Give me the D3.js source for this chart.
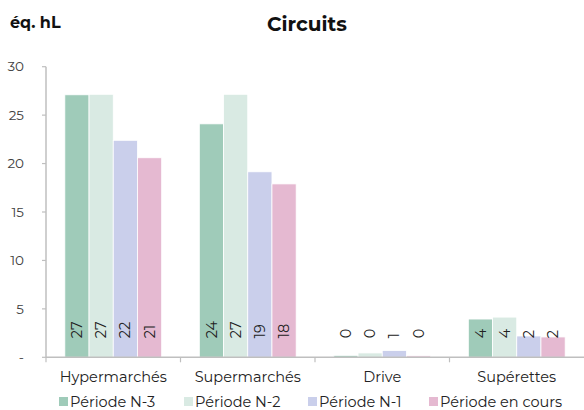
<!DOCTYPE html>
<html><head><meta charset="utf-8">
<script src="https://cdn.jsdelivr.net/npm/d3@7"></script>
<style>body{margin:0;background:#fff}svg{display:block;font-family:Montserrat,"DejaVu Sans",sans-serif}</style>
</head><body>
<script>
const categories = ["Hypermarchés","Supermarchés","Drive","Supérettes"];
const seriesNames = ["Période N-3","Période N-2","Période N-1","Période en cours"];
const n3 = [27.1, 24.1, 0.2, 3.95];
const n2 = [27.15, 27.15, 0.45, 4.15];
const n1 = [22.4, 19.15, 0.7, 2.2];
const enCours = [20.6, 17.9, 0.15, 2.1];
const yTicks = [0,5,10,15,20,25,30];
const colors = ["#9fcbb9","#d9eae3","#cacfeb","#e5b9d1"];

const seriesValues = [n3,n2,n1,enCours];
const W=584,H=410;
const svg=d3.select("body").append("svg").attr("width",W).attr("height",H);
const x0=46,x1=584,yb=357.3,yt=66.7;
const x=d3.scaleBand().domain(categories).range([x0,x1]).paddingInner(0.28).paddingOuter(0.14);
const xs=d3.scaleBand().domain(seriesNames).range([0,x.bandwidth()]);
const y=d3.scaleLinear().domain([0,30]).range([yb,yt]);

// title
svg.append("text").attr("x",307).attr("y",31).attr("text-anchor","middle").attr("font-weight","bold").attr("font-size",20).attr("fill","#111").text("Circuits");
svg.append("text").attr("x",10).attr("y",28).attr("font-weight","bold").attr("font-size",16).attr("fill","#111").text("éq. hL");

// y axis
const ya=svg.append("g");
ya.append("line").attr("x1",x0).attr("x2",x0).attr("y1",yt).attr("y2",yb).attr("stroke","#bfbfbf").attr("stroke-width",1.5);
yTicks.forEach(t=>{
  ya.append("line").attr("x1",x0-4).attr("x2",x0).attr("y1",y(t)).attr("y2",y(t)).attr("stroke","#bfbfbf").attr("stroke-width",1.2);
  ya.append("text").attr("x",24).attr("y",y(t)).attr("dy","0.35em").attr("text-anchor","end").attr("font-size",13.5).attr("fill","#404040").text(t===0?"-":t);
});

// bars
const g=svg.append("g");
categories.forEach((c,ci)=>{
  seriesNames.forEach((s,si)=>{
    const v=seriesValues[si][ci];
    const bx=x(c)+xs(s);
    g.append("rect").attr("x",bx).attr("y",y(v)).attr("width",xs.bandwidth()).attr("height",y(0)-y(v)).attr("fill",colors[si]).attr("stroke","#fff").attr("stroke-width",0.8);
    const cx=bx+xs.bandwidth()/2, cy=y(0)-19;
    g.append("text").attr("transform",`translate(${cx},${cy}) rotate(-90)`).attr("dy","0.35em").attr("text-anchor","start").attr("font-size",14.5).attr("fill","#222").text(Math.round(v));
  });
});

// x axis
const xa=svg.append("g");
xa.append("line").attr("x1",x0).attr("x2",x1).attr("y1",yb).attr("y2",yb).attr("stroke","#bfbfbf").attr("stroke-width",1.5);
categories.forEach((c,i)=>{
  const left=x(c)-x.step()*x.paddingInner()/2;
  xa.append("line").attr("x1",left).attr("x2",left).attr("y1",yb).attr("y2",yb+5).attr("stroke","#bfbfbf").attr("stroke-width",1.2);
  xa.append("text").attr("x",x(c)+x.bandwidth()/2).attr("y",382).attr("text-anchor","middle").attr("font-size",14.5).attr("fill","#222").text(c);
});

// legend
const legX=[59,184,308,429];
seriesNames.forEach((s,i)=>{
  svg.append("rect").attr("x",legX[i]).attr("y",397).attr("width",9).attr("height",9).attr("fill",colors[i]);
  svg.append("text").attr("x",legX[i]+11).attr("y",407).attr("font-size",14.5).attr("fill","#222").text(s);
});
</script>
</body></html>
